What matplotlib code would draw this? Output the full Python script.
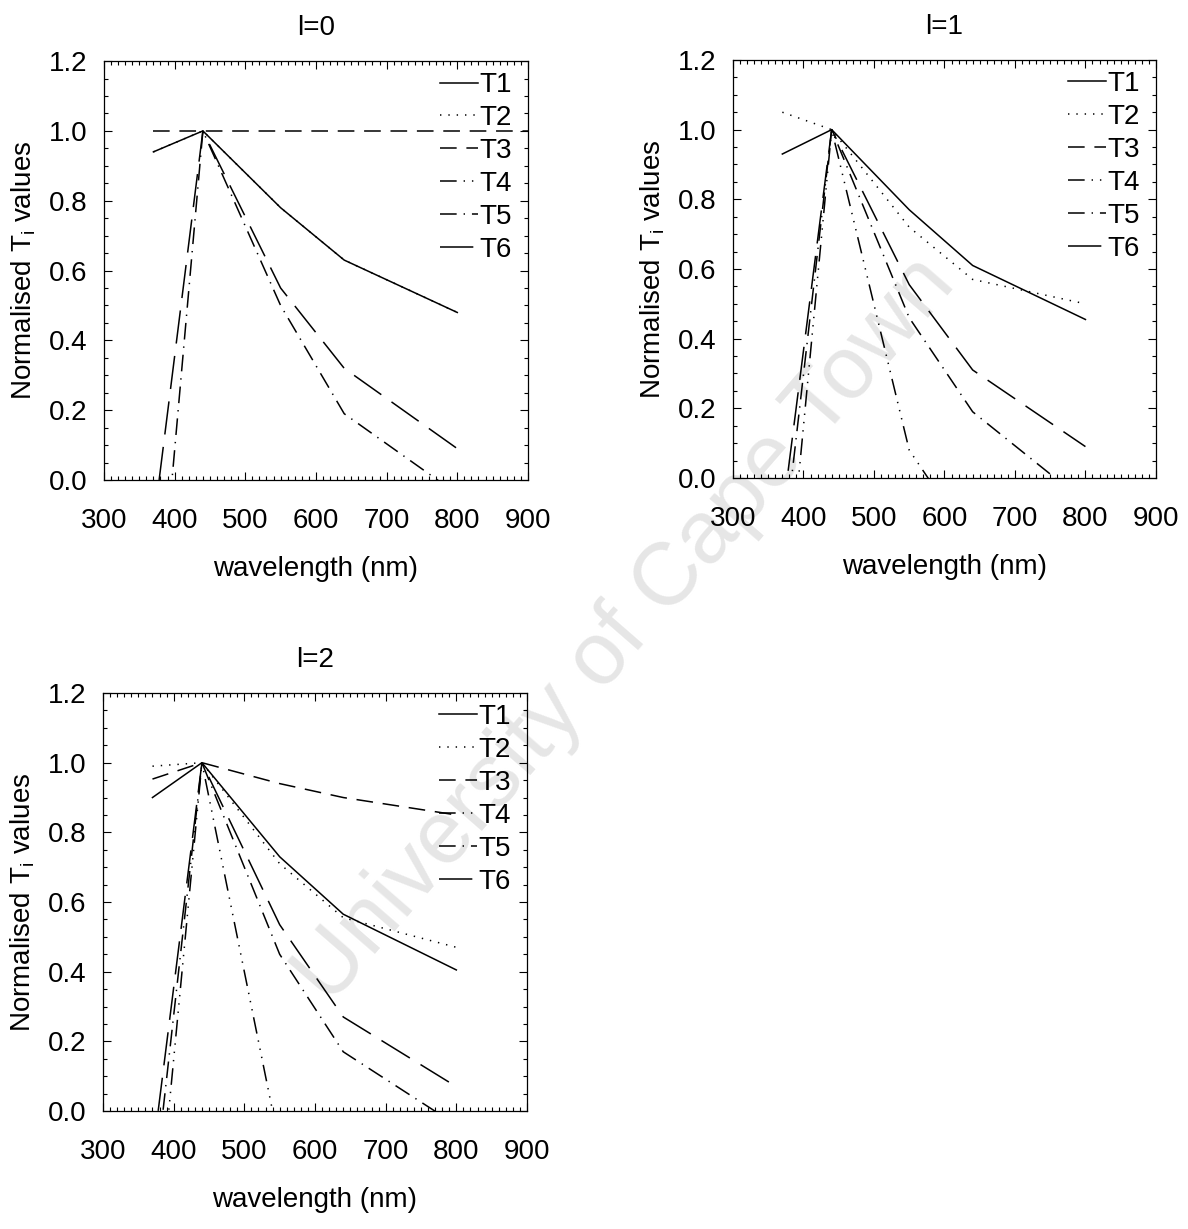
import numpy as np
import matplotlib.pyplot as plt
from matplotlib.ticker import MultipleLocator

plt.rcParams['font.family'] = ['Liberation Sans', 'DejaVu Sans']
plt.rcParams['mathtext.fontset'] = 'custom'
plt.rcParams['mathtext.rm'] = 'Liberation Sans'
plt.rcParams['lines.scale_dashes'] = False

# wavelengths (nm)
wl = [370, 440, 550, 640, 800]
wl_flat = [370, 440, 550, 640, 800, 900]

nan = np.nan

# l=0  (T2 lies under T1, T4 under T5)
l0_T1 = [0.94, 1.00, 0.78, 0.63, 0.48]
l0_T2 = [0.94, 1.00, 0.78, 0.63, 0.48]
l0_T3 = [1.00, 1.00, 1.00, 1.00, 1.00, 1.00]
l0_T4 = [nan, nan, nan, nan, nan]
l0_T5 = [-0.60, 1.00, 0.50, 0.19, -0.04]
l0_T6 = [-0.13, 1.00, 0.55, 0.32, 0.09]

# l=1
l1_T1 = [0.93, 1.00, 0.77, 0.61, 0.455]
l1_T2 = [1.05, 1.00, 0.72, 0.57, 0.50]
l1_T3 = [nan, nan, nan, nan, nan]
l1_T4 = [-0.49, 1.00, 0.08, -0.19, -0.40]
l1_T5 = [-0.23, 1.00, 0.46, 0.19, -0.07]
l1_T6 = [-0.11, 1.00, 0.555, 0.31, 0.09]

# l=2
l2_T1 = [0.90, 1.00, 0.73, 0.565, 0.405]
l2_T2 = [0.99, 1.00, 0.71, 0.555, 0.47]
l2_T3 = [0.953, 1.00, 0.94, 0.90, 0.85]
l2_T4 = [-0.49, 1.00, -0.10, -0.40, -0.60]
l2_T5 = [-0.27, 1.00, 0.45, 0.17, -0.04]
l2_T6 = [-0.13, 1.00, 0.535, 0.27, 0.07]

labels = ['T1', 'T2', 'T3', 'T4', 'T5', 'T6']
estilos = ['-', (0, (1, 5)), (0, (12, 7)),
           (0, (12, 5, 1, 5, 1, 5, 1, 5)), (0, (12, 5, 1, 5)), (0, (24, 9))]

paneles = [
    ('l=0', [(wl, l0_T1), (wl, l0_T2), (wl_flat, l0_T3), (wl, l0_T4), (wl, l0_T5), (wl, l0_T6)]),
    ('l=1', [(wl, l1_T1), (wl, l1_T2), (wl, l1_T3), (wl, l1_T4), (wl, l1_T5), (wl, l1_T6)]),
    ('l=2', [(wl, l2_T1), (wl, l2_T2), (wl, l2_T3), (wl, l2_T4), (wl, l2_T5), (wl, l2_T6)]),
]

posiciones = [[0.0875, 0.6094, 0.3569, 0.3409],
              [0.6170, 0.6111, 0.3560, 0.3401],
              [0.0867, 0.0960, 0.3569, 0.3401]]

fs = 20

fig = plt.figure(figsize=(11.88, 12.29), dpi=100)

fig.text(0.527, 0.487, 'University of Cape Town', fontsize=64, color='#e6e6e6',
         rotation=49, ha='center', va='center', zorder=-1)

for (titulo, series), pos in zip(paneles, posiciones):
    ax = fig.add_axes(pos)
    ax.set_facecolor('none')
    for (x, y), lab, ls in zip(series, labels, estilos):
        ax.plot(x, y, color='black', lw=1.1, linestyle=ls, label=lab)
    ax.set_xlim(300, 900)
    ax.set_ylim(0, 1.2)
    ax.xaxis.set_major_locator(MultipleLocator(100))
    ax.xaxis.set_minor_locator(MultipleLocator(10))
    ax.yaxis.set_major_locator(MultipleLocator(0.2))
    ax.yaxis.set_minor_locator(MultipleLocator(0.05))
    ax.yaxis.set_major_formatter(plt.FormatStrFormatter('%.1f'))
    ax.tick_params(which='both', direction='in', top=True, right=True, width=0.8)
    ax.tick_params(which='major', length=6, labelsize=fs)
    ax.tick_params(which='minor', length=3)
    ax.tick_params(axis='x', pad=20)
    ax.tick_params(axis='y', pad=12)
    for s in ax.spines.values():
        s.set_linewidth(0.9)
    ax.set_title(titulo, fontsize=fs, pad=19)
    ax.set_xlabel('wavelength (nm)', fontsize=fs, labelpad=16)
    ax.set_ylabel(r'Normalised T$_{\rm i}$ values', fontsize=fs, labelpad=8)
    ax.legend(loc='upper right', bbox_to_anchor=(0.968, 0.98), frameon=False,
              fontsize=fs, handlelength=1.35, handletextpad=0.05,
              labelspacing=0.25, borderpad=0.1, borderaxespad=0)

plt.savefig('out.png', dpi=100)
